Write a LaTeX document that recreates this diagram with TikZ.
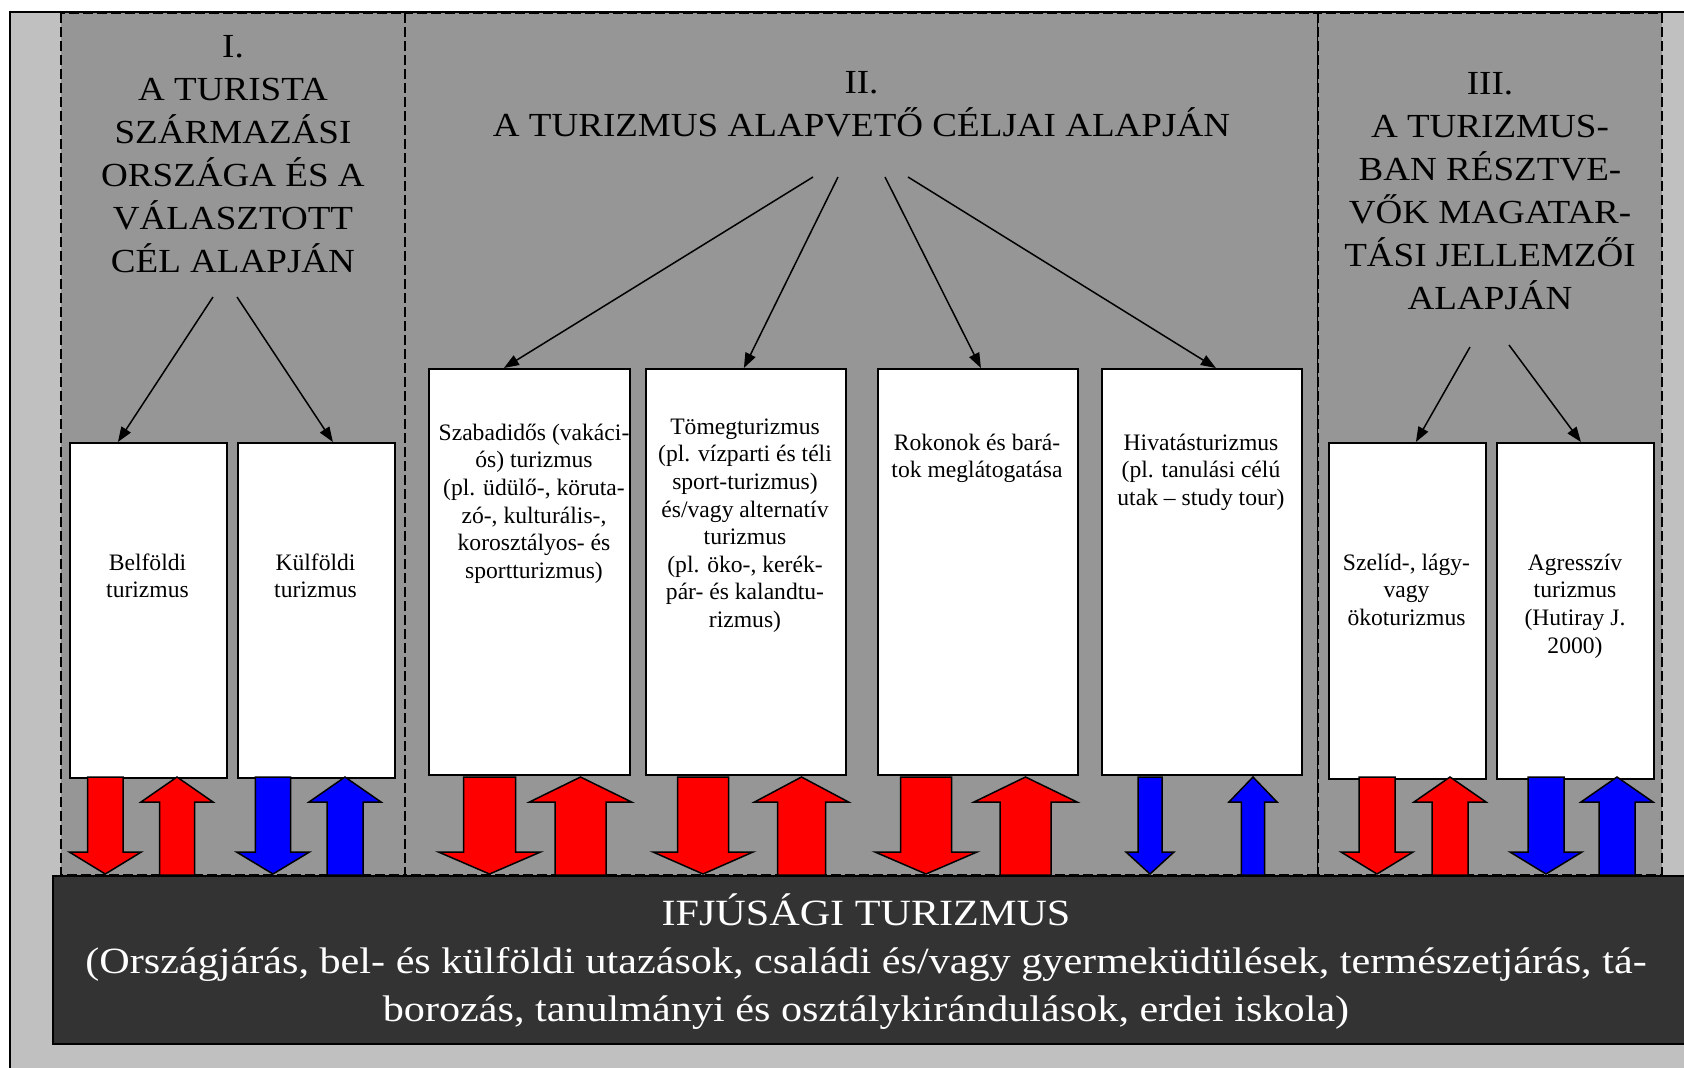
\documentclass[tikz,border=0pt]{standalone}
\usepackage{fontspec}
\setmainfont{Liberation Serif}
\newfontfamily\titlefont[FakeStretch=1.1]{Liberation Serif}
\newfontfamily\bottomfont[FakeStretch=1.14]{Liberation Serif}
\usetikzlibrary{arrows.meta}
\definecolor{outerbg}{HTML}{C0C0C0}
\definecolor{panelbg}{HTML}{969696}
\definecolor{darkbg}{HTML}{333333}
\definecolor{arrred}{HTML}{FF0000}
\definecolor{arrblue}{HTML}{0000FF}
\begin{document}
\begin{tikzpicture}[x=1pt,y=-1pt,
  panel/.style={fill=panelbg, draw=black, line width=1.1pt, dash pattern=on 10pt off 4pt},
  catbox/.style={draw=black, fill=white, line width=1.8pt, inner sep=0pt, anchor=north west},
  titletext/.style={anchor=north, inner sep=0pt, align=center, font=\titlefont\fontsize{33.7}{43}\selectfont},
  boxtext/.style={anchor=north, inner sep=0pt, align=center, font=\fontsize{23.6}{27.6}\selectfont},
  bottomtext/.style={anchor=north, inner sep=0pt, align=center, text=white, font=\bottomfont\fontsize{37}{48.3}\selectfont},
  conn/.style={draw=black, line width=1.5pt, -{Triangle[length=15pt,width=11pt]}},
  blockarrow/.style={draw=black, line width=1.5pt, line join=miter},
  pics/downarrow/.style n args={3}{code={\path[blockarrow, fill=#3] (-#1,0) -- (#1,0) -- (#1,75) -- (#2,75) -- (0,97) -- (-#2,75) -- (-#1,75) -- cycle;}},
  pics/uparrow/.style n args={3}{code={\path[blockarrow, fill=#3] (0,0) -- (#2,25) -- (#1,25) -- (#1,98) -- (-#1,98) -- (-#1,25) -- (-#2,25) -- cycle;}},
]
\useasboundingbox (0,0) rectangle (1684,1068);
% outer frame
\fill[outerbg] (10,12) rectangle (1710,1090);
% panels
\path[panel] (61,13) rectangle (405,875);
\path[panel] (405,13) rectangle (1318,875);
\path[panel] (1318,13) rectangle (1662,875);
\draw[black, line width=2.5pt] (10,1090) -- (10,12) -- (1710,12);
% bottom box
\node[draw=black, fill=darkbg, line width=2pt, inner sep=0pt, anchor=north west, minimum width=1660pt, minimum height=168pt] (youth) at (52,875) {};
% category boxes
\node[catbox, minimum width=157pt, minimum height=335pt] (b1) at (69,442) {};
\node[catbox, minimum width=157pt, minimum height=335pt] (b2) at (237,442) {};
\node[catbox, minimum width=201pt, minimum height=406pt] (c1) at (428,368) {};
\node[catbox, minimum width=200pt, minimum height=406pt] (c2) at (645,368) {};
\node[catbox, minimum width=200pt, minimum height=406pt] (c3) at (877,368) {};
\node[catbox, minimum width=200pt, minimum height=406pt] (c4) at (1101,368) {};
\node[catbox, minimum width=157pt, minimum height=336pt] (d1) at (1328,442) {};
\node[catbox, minimum width=157pt, minimum height=336pt] (d2) at (1496,442) {};
% titles
\node[titletext] (t1) at (233,26.9) {\strut I.\\A TURISTA\\SZÁRMAZÁSI\\ORSZÁGA ÉS A\\VÁLASZTOTT\\CÉL ALAPJÁN};
\node[titletext] (t2) at (861.5,62.9) {\strut II.\\A TURIZMUS ALAPVETŐ CÉLJAI ALAPJÁN};
\node[titletext] (t3) at (1490,63.9) {\strut III.\\A TURIZMUS-\\BAN RÉSZTVE-\\VŐK MAGATAR-\\TÁSI JELLEMZŐI\\ALAPJÁN};
% box texts
\node[boxtext] (b1t) at (147.5,550.7) {\strut Belföldi\\turizmus};
\node[boxtext] (b2t) at (315.5,550.7) {\strut Külföldi\\turizmus};
\node[boxtext] (c1t) at (534,420.7) {\strut Szabadidős (vakáci-\\ós) turizmus\\(pl. üdülő-, köruta-\\zó-, kulturális-,\\korosztályos- és\\sportturizmus)};
\node[boxtext] (c2t) at (745,414.7) {\strut Tömegturizmus\\(pl. vízparti és téli\\sport-turizmus)\\és/vagy alternatív\\turizmus\\(pl. öko-, kerék-\\pár- és kalandtu-\\rizmus)};
\node[boxtext] (c3t) at (977,430.7) {\strut Rokonok és bará-\\tok meglátogatása};
\node[boxtext] (c4t) at (1201,430.7) {\strut Hivatásturizmus\\(pl. tanulási célú\\utak – study tour)};
\node[boxtext] (d1t) at (1406.5,550.7) {\strut Szelíd-, lágy-\\vagy\\ökoturizmus};
\node[boxtext] (d2t) at (1575,550.7) {\strut Agresszív\\turizmus\\(Hutiray J.\\2000)};
\node[bottomtext] (youtht) at (866,891.2) {\strut IFJÚSÁGI TURIZMUS\\(Országjárás, bel- és külföldi utazások, családi és/vagy gyermeküdülések, természetjárás, tá-\\borozás, tanulmányi és osztálykirándulások, erdei iskola)};
% connectors
\coordinate (s1a) at (213,297);
\coordinate (s1b) at (237,297);
\coordinate (s2a) at (813,177);
\coordinate (s2b) at (838,177);
\coordinate (s2c) at (885,177);
\coordinate (s2d) at (908,177);
\coordinate (s3a) at (1470,347);
\coordinate (s3b) at (1509,345);
\draw[conn] (s1a) -- ([xshift=-30.5pt]b1.north);
\draw[conn] (s1b) -- ([xshift=16.5pt]b2.north);
\draw[conn] (s2a) -- ([xshift=-25.5pt]c1.north);
\draw[conn] (s2b) -- ([xshift=-2pt]c2.north);
\draw[conn] (s2c) -- ([xshift=3pt]c3.north);
\draw[conn] (s2d) -- ([xshift=14pt]c4.north);
\draw[conn] (s3a) -- ([xshift=8.5pt]d1.north);
\draw[conn] (s3b) -- ([xshift=5.5pt]d2.north);
% block arrows
\pic at (105.3,777) {downarrow={17.8}{36}{arrred}};
\pic at (177,777) {uparrow={17.5}{36}{arrred}};
\pic at (273,777) {downarrow={17.7}{36.5}{arrblue}};
\pic at (345,777) {uparrow={18}{36}{arrblue}};
\pic at (489.5,777) {downarrow={26}{51}{arrred}};
\pic at (580.5,777) {uparrow={25.5}{51}{arrred}};
\pic at (703,777) {downarrow={25.5}{50}{arrred}};
\pic at (801.5,777) {uparrow={24}{47}{arrred}};
\pic at (926,777) {downarrow={25.5}{51}{arrred}};
\pic at (1025.5,777) {uparrow={25.5}{51.5}{arrred}};
\pic at (1150,777) {downarrow={12}{24}{arrblue}};
\pic at (1253,777) {uparrow={11.7}{24}{arrblue}};
\pic at (1377,777) {downarrow={18}{36}{arrred}};
\pic at (1450,777) {uparrow={18}{36}{arrred}};
\pic at (1546,777) {downarrow={18}{36}{arrblue}};
\pic at (1617,777) {uparrow={18}{36}{arrblue}};
\end{tikzpicture}
\end{document}
